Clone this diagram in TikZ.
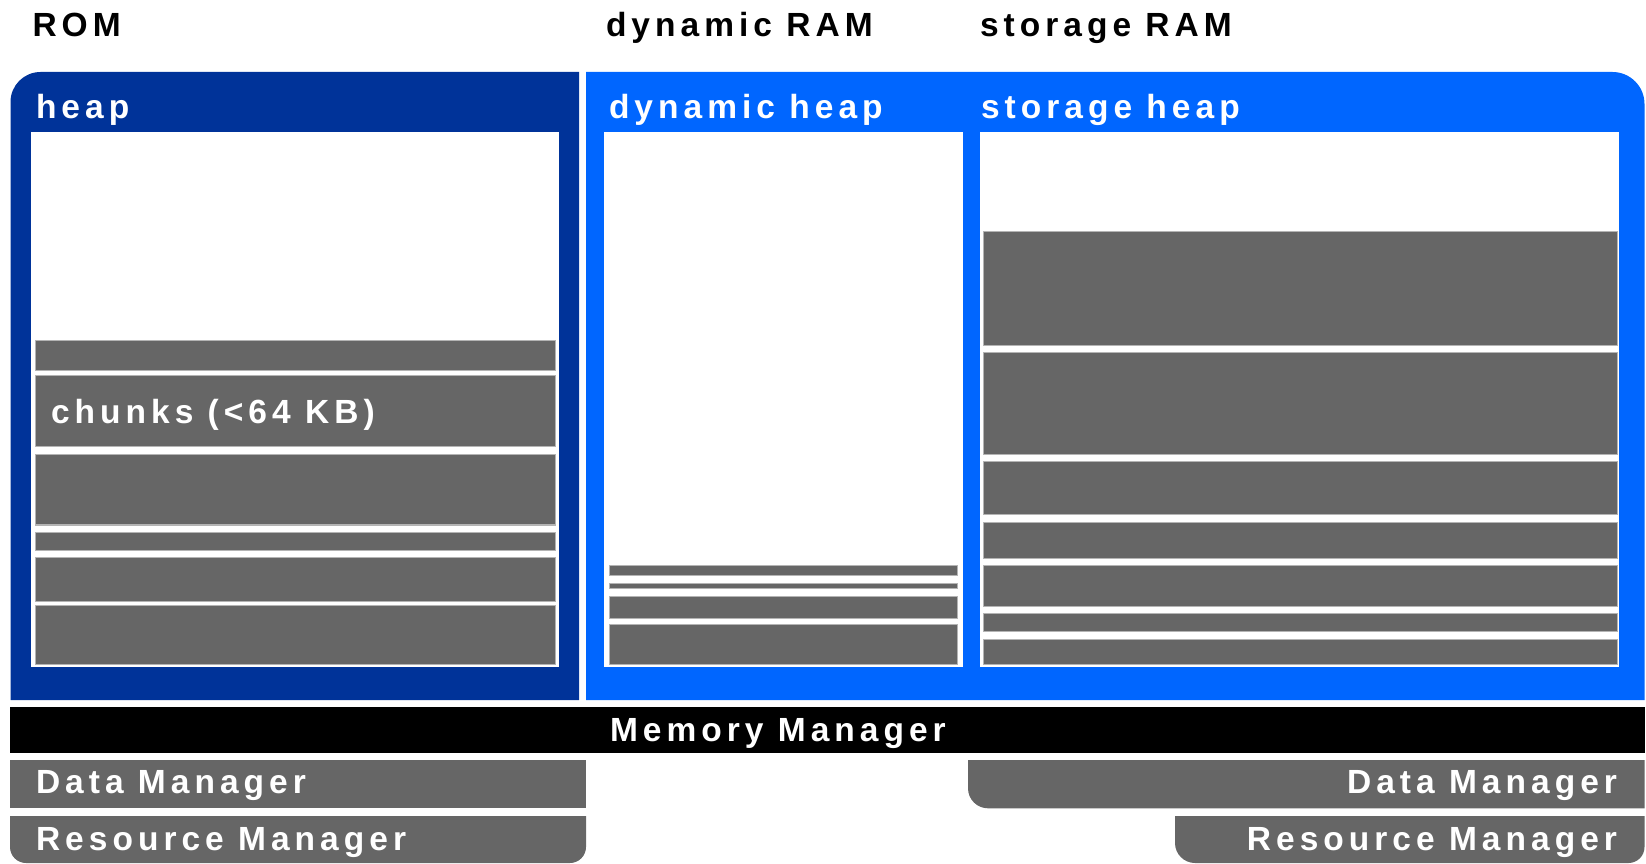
\documentclass[tikz,border=0pt]{standalone}
\usepackage{fontspec}
\setmainfont{Liberation Sans}
\newfontfamily\labelfont{Liberation Sans}[LetterSpace=15]
\definecolor{romblue}{HTML}{003399}
\definecolor{ramblue}{HTML}{0066FF}
\definecolor{chunkgray}{HTML}{666666}
\definecolor{chunkedge}{HTML}{B4B4B4}
\tikzset{
  lbl/.style={font=\labelfont\bfseries\fontsize{33.5}{40}\selectfont, inner sep=0pt, outer sep=0pt},
  title/.style={lbl, text=black, anchor=base west},
  wlbl/.style={lbl, text=white, anchor=base west},
  wlblr/.style={lbl, text=white, anchor=base east},
  pane/.style={fill=white},
  chunk/.style={fill=chunkgray, draw=chunkedge, line width=1pt},
  mgr/.style={fill=chunkgray},
}
\begin{document}
\begin{tikzpicture}[x=1pt,y=1pt]
\useasboundingbox (0,0) rectangle (1646,863);

% memory titles
\node[title] (rom)  at (32.5,826.3) {ROM};
\node[title] (dram) at (606,826.3) {dynamic RAM};
\node[title] (sram) at (980,826.3) {storage RAM};

% ROM card (rounded top-left corner)
\fill[romblue] (10.5,163) -- (10.5,761) arc[start angle=180,end angle=90,radius=30] -- (579,791) -- (579,163) -- cycle;
% RAM card (rounded top-right corner)
\fill[ramblue] (586,163) -- (586,791) -- (1612.5,791) arc[start angle=90,end angle=0,radius=32] -- (1644.5,163) -- cycle;

\node[wlbl] (heap)  at (36,744.7)  {heap};
\node[wlbl] (dheap) at (609,744.7) {dynamic heap};
\node[wlbl] (sheap) at (981,744.7) {storage heap};

% heap panes
\fill[pane] (30.6,196.3) rectangle (558.7,730.5);
\fill[pane] (604.3,196.3) rectangle (962.7,730.5);
\fill[pane] (980.2,196.3) rectangle (1619.3,730.5);

% chunks in ROM heap
\foreach \a/\b in {522.3/492.3, 487/416.3, 408.7/338, 330.3/312.3, 305.3/262, 257.3/198.7}
  \draw[chunk] (35.6,\a) rectangle (555.5,\b);
\node[wlbl] (chunks) at (51,439.7) {chunks (<64 KB)};

% chunks in dynamic heap
\foreach \a/\b in {297.3/287.7, 279.7/274.7, 267/244.3, 239/198.7}
  \draw[chunk] (609.3,\a) rectangle (957.7,\b);

% chunks in storage heap
\foreach \a/\b in {631.3/517.3, 510/408.7, 401/348, 340.3/305, 297.3/256.7, 249.3/231.3, 223.7/198.7}
  \draw[chunk] (983.3,\a) rectangle (1617,\b);

% memory manager bar
\fill[black] (10,110.3) rectangle (1644.5,155.7);
\node[wlbl] (mm) at (610,121.3) {Memory Manager};

% managers on the ROM side
\fill[mgr] (10,54.7) rectangle (586,103);
\node[wlbl] (dmL) at (36,70) {Data Manager};
\fill[mgr] (10,47) -- (586,47) -- (586,16) arc[start angle=0,end angle=-90,radius=16] -- (26,0) arc[start angle=270,end angle=180,radius=16] -- cycle;
\node[wlbl] (rmL) at (36,13) {Resource Manager};

% managers on the storage RAM side
\fill[mgr] (968,103) -- (1644.5,103) -- (1644.5,54.7) -- (988,54.7) arc[start angle=270,end angle=180,radius=20] -- cycle;
\node[wlblr] (dmR) at (1617,70) {Data Manager};
\fill[mgr] (1175,47) -- (1644.5,47) -- (1644.5,16) arc[start angle=0,end angle=-90,radius=16] -- (1195,0) arc[start angle=270,end angle=180,radius=20] -- cycle;
\node[wlblr] (rmR) at (1617,13) {Resource Manager};
\end{tikzpicture}
\end{document}
